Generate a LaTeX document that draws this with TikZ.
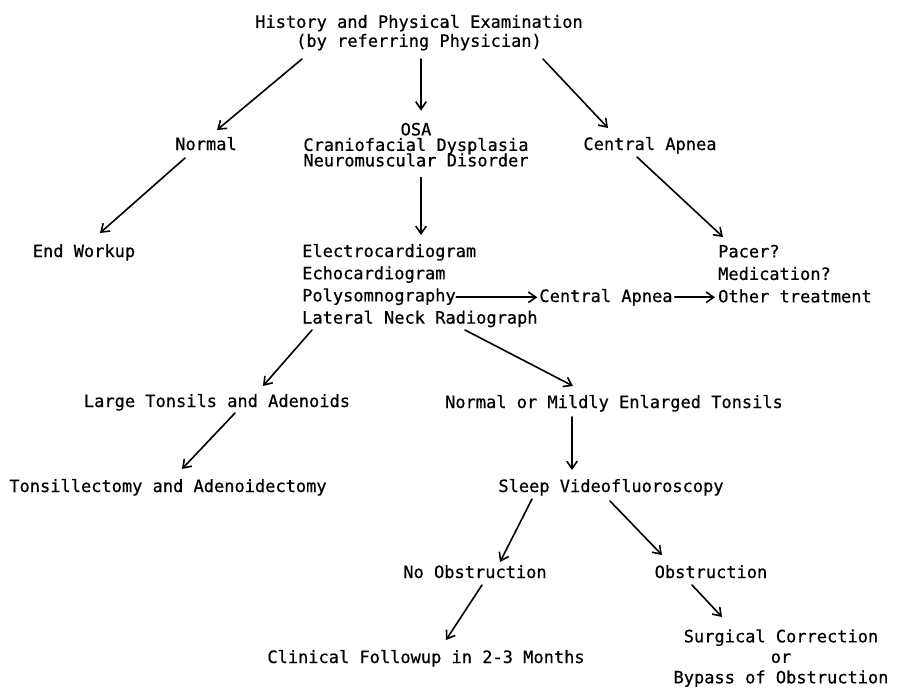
\documentclass[tikz,border=0pt]{standalone}
\usepackage{fontspec}
\newfontfamily\dmono[FakeBold=0.6]{DejaVu Sans Mono}
\usetikzlibrary{arrows.meta,calc}
\begin{document}
\begin{tikzpicture}[x=1pt,y=-1pt,
  txt/.style={inner sep=0pt, font={\dmono\fontsize{17}{22.2}\selectfont\lineskiplimit=-30pt}},
  arr/.style={-{Straight Barb[length=7.5pt,width=10.5pt]}, line width=1.6pt, line cap=round}]
\useasboundingbox (0,0) rectangle (897,688);

% nodes
\node[txt, align=center, anchor=north, font={\dmono\fontsize{17}{19}\selectfont\lineskiplimit=-30pt}] (hist) at (419,14.6)
  {History and Physical Examination\\(by referring Physician)};
\node[txt, anchor=base] (normal) at (206,150) {Normal};
\node[txt, align=center, anchor=north, font={\dmono\fontsize{17}{15.5}\selectfont\lineskiplimit=-30pt}] (osa) at (416,122.6)
  {OSA\\Craniofacial Dysplasia\\Neuromuscular Disorder};
\node[txt, anchor=base] (ca1) at (650,150) {Central Apnea};
\node[txt, anchor=base] (endw) at (84,257) {End Workup};
\node[txt, align=left, anchor=north west] (tests) at (302,243.8)
  {Electrocardiogram\\Echocardiogram\\Polysomnography\\Lateral Neck Radiograph};
\node[txt, align=left, anchor=north west, font={\dmono\fontsize{17}{22.5}\selectfont\lineskiplimit=-30pt}] (pacer) at (718,244.6)
  {Pacer?\\Medication?\\Other treatment};
\node[txt, anchor=base] (ca2) at (606,302) {Central Apnea};
\node[txt, anchor=base] (large) at (217,407) {Large Tonsils and Adenoids};
\node[txt, anchor=base] (nmild) at (614,408) {Normal or Mildly Enlarged Tonsils};
\node[txt, anchor=base] (tonsil) at (168,492) {Tonsillectomy and Adenoidectomy};
\node[txt, anchor=base] (sleep) at (611,492) {Sleep Videofluoroscopy};
\node[txt, anchor=base] (noobs) at (475,578) {No Obstruction};
\node[txt, anchor=base] (obs) at (711,578) {Obstruction};
\node[txt, anchor=base] (clin) at (426,663) {Clinical Followup in 2-3 Months};
\node[txt, align=center, anchor=north, font={\dmono\fontsize{17}{20.5}\selectfont\lineskiplimit=-30pt}] (surg) at (781,629.1)
  {Surgical Correction\\or\\Bypass of Obstruction};

% connectors
\draw[arr] ($(hist.north)+(-117,44.4)$) -- ($(normal.base)+(11,-20)$);
\draw[arr] ($(hist.north)+(2,44.4)$) -- ($(osa.north)+(5,-12)$);
\draw[arr] ($(hist.north)+(124,44.4)$) -- ($(ca1.base)+(-42,-22)$);
\draw[arr] ($(normal.base)+(-21,8)$) -- ($(endw.base)+(16,-24)$);
\draw[arr] ($(osa.north)+(5,55)$) -- ($(tests.north west)+(119,-8.8)$);
\draw[arr] ($(ca1.base)+(-13,7)$) -- ($(pacer.north west)+(5,-7.6)$);
\draw[arr] ($(ca2.west)+(-83,0)$) -- ($(ca2.west)+(-2,0)$);
\draw[arr] ($(ca2.east)+(2,0)$) -- ($(ca2.east -| pacer.west)+(-3,0)$);
\draw[arr] ($(tests.north west)+(10,86.2)$) -- ($(large.base)+(46,-21)$);
\draw[arr] ($(tests.north west)+(163,86.2)$) -- ($(nmild.base)+(-41,-22)$);
\draw[arr] ($(large.base)+(18,6)$) -- ($(tonsil.base)+(14,-23)$);
\draw[arr] ($(nmild.base)+(-42,9)$) -- ($(sleep.base)+(-39,-22)$);
\draw[arr] ($(sleep.base)+(-79,7)$) -- ($(noobs.base)+(25,-16)$);
\draw[arr] ($(sleep.base)+(-1,9)$) -- ($(obs.base)+(-49,-23)$);
\draw[arr] ($(noobs.base)+(7,7)$) -- ($(clin.base)+(20,-23)$);
\draw[arr] ($(obs.base)+(-19,7)$) -- ($(surg.north)+(-59,-12.1)$);
\end{tikzpicture}
\end{document}
